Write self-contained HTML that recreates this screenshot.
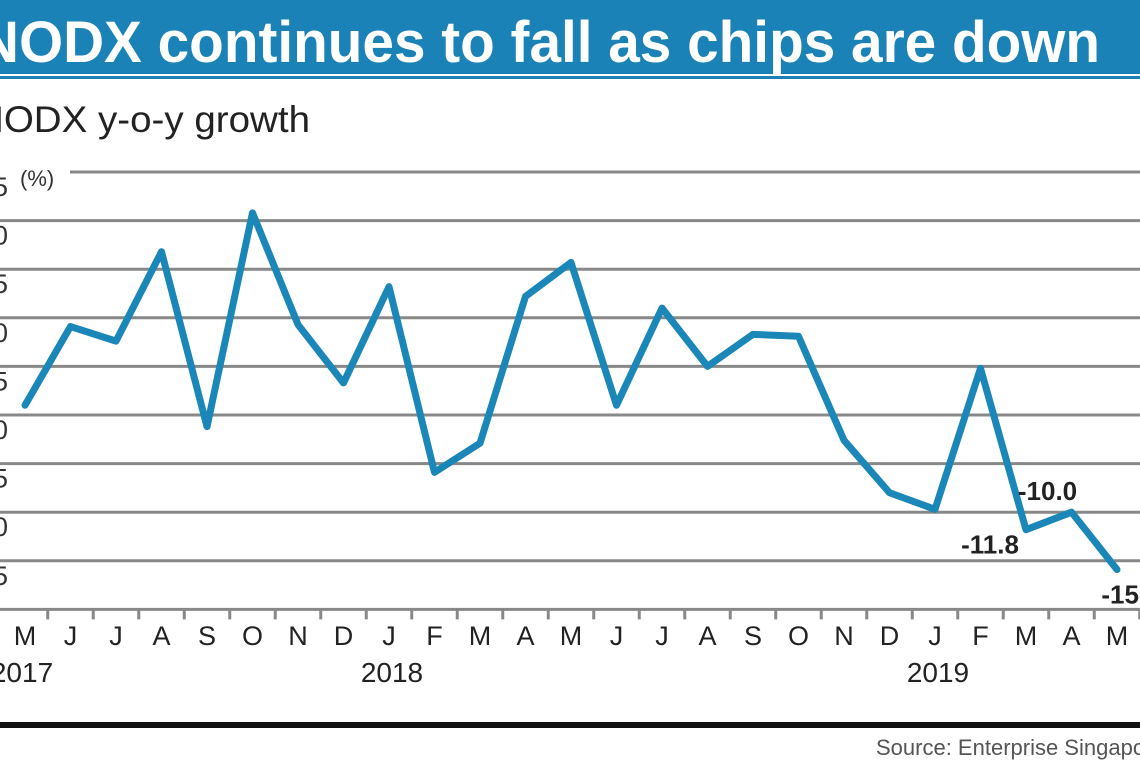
<!DOCTYPE html>
<html><head><meta charset="utf-8"><style>
body{margin:0;width:1140px;height:760px;overflow:hidden;background:#fff;font-family:"Liberation Sans",sans-serif;}
</style></head><body>
<svg width="1140" height="760" viewBox="0 0 1140 760">
<rect x="0" y="0" width="1140" height="74" fill="#1a82b6"/>
<rect x="0" y="76" width="1140" height="3" fill="#1a82b6"/>
<text x="-22" y="62" font-size="58" font-weight="bold" fill="#fff" textLength="1122" lengthAdjust="spacingAndGlyphs">NODX continues to fall as chips are down</text>
<text x="-24" y="132" font-size="37" fill="#222" textLength="334" lengthAdjust="spacingAndGlyphs">NODX y-o-y growth</text>
<text x="20" y="186" font-size="22" fill="#333">(%)</text>
<g id="grid"></g>
<g id="ylab"></g>
<g id="xlab"></g>
<path id="line" fill="none" stroke="#1a87b8" stroke-width="7" stroke-linejoin="round" stroke-linecap="round"/>
<g id="ann"></g>
<text x="22" y="682" font-size="28" fill="#222" text-anchor="middle">2017</text>
<text x="392" y="682" font-size="28" fill="#222" text-anchor="middle">2018</text>
<text x="938" y="682" font-size="28" fill="#222" text-anchor="middle">2019</text>
<rect x="0" y="722" width="1140" height="6" fill="#111"/>
<text x="876" y="755" font-size="22" fill="#555">Source: Enterprise Singapore</text>
</svg>
<script>
const months=["M","J","J","A","S","O","N","D","J","F","M","A","M","J","J","A","S","O","N","D","J","F","M","A","M"];
const values=[1.0,9.1,7.6,16.8,-1.2,20.8,9.3,3.3,13.2,-5.9,-2.9,12.2,15.7,1.0,11.0,5.0,8.3,8.1,-2.6,-8.0,-9.7,4.8,-11.8,-10.0,-15.9];
const yTicks=[25,20,15,10,5,0,-5,-10,-15];
const annotations=[{i:22,label:"-11.8",dx:-36,dy:24},{i:23,label:"-10.0",dx:-24,dy:-12},{i:24,label:"-15.9",dx:14,dy:34}];
const NS="http://www.w3.org/2000/svg";
const x=i=>25+i*45.5;
const y=v=>415-v*9.72;
function mk(tag,attrs,parent,text){const e=document.createElementNS(NS,tag);for(const k in attrs)e.setAttribute(k,attrs[k]);if(text!==undefined)e.textContent=text;parent.appendChild(e);return e;}
const grid=document.getElementById('grid'),ylab=document.getElementById('ylab'),xlab=document.getElementById('xlab'),ann=document.getElementById('ann');
yTicks.forEach(v=>{
  const l=mk('line',{x1:v===25?70:0,x2:1140,y1:y(v),y2:y(v),stroke:'#888','stroke-width':3},grid);
  
  
  const t=mk('text',{x:8,y:y(v)+24,'font-size':27,fill:'#333','text-anchor':'end'},ylab,String(v));
  
  
});
const ax=mk('line',{x1:0,x2:1140,y1:y(-20),y2:y(-20),stroke:'#888','stroke-width':3},grid);


months.forEach((m,i)=>{
  const tk=mk('line',{x1:x(i)+22.75,x2:x(i)+22.75,y1:y(-20),y2:y(-20)+10,stroke:'#888','stroke-width':3},grid);
  
  
  const t=mk('text',{x:x(i),y:645,'font-size':27,fill:'#222','text-anchor':'middle'},xlab,m);
  
  
});
document.getElementById('line').setAttribute('d',values.map((v,i)=>(i?'L':'M')+x(i)+','+y(v)).join(' '));
annotations.forEach(a=>{
  const t=mk('text',{x:x(a.i)+a.dx,y:y(values[a.i])+a.dy,'font-size':26,'font-weight':'bold',fill:'#222','text-anchor':'middle'},ann,a.label);
  
  
});
</script>
</body></html>
